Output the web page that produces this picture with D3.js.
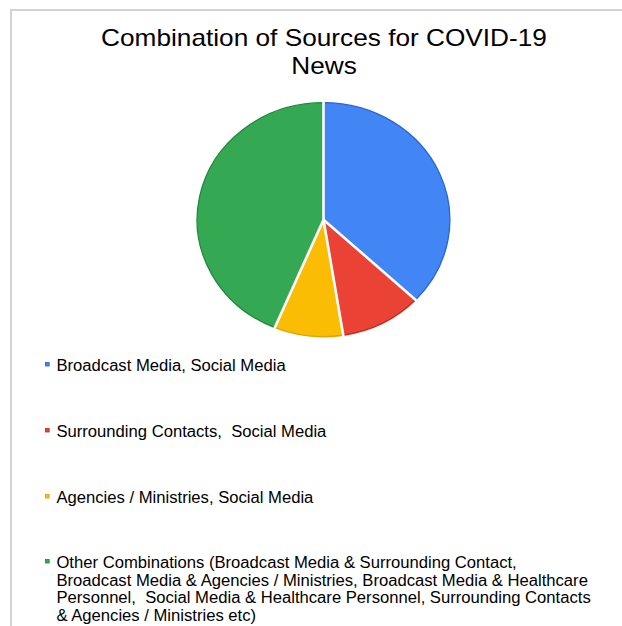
<!DOCTYPE html>
<html>
<head>
    <script src="https://cdn.jsdelivr.net/npm/d3@7"></script>
</head>
<body style="margin:0;background:#fff;">

<style type="text/css">
    svg { display:block; }
    text { font-family: "Liberation Sans", Arial, sans-serif; fill:#000; }
</style>

<script type="text/javascript">
var titleLines = ["Combination of Sources for COVID-19", "News"];

var categories = [
    ["Broadcast Media, Social Media"],
    ["Surrounding Contacts,  Social Media"],
    ["Agencies / Ministries, Social Media"],
    ["Other Combinations (Broadcast Media & Surrounding Contact,",
     "Broadcast Media & Agencies / Ministries, Broadcast Media & Healthcare",
     "Personnel,  Social Media & Healthcare Personnel, Surrounding Contacts",
     "& Agencies / Ministries etc)"]
];
var values = [37.0, 10.5, 8.8, 43.7];
var colors = ["#4285f4", "#ea4335", "#fbbc04", "#34a853"];
var edgeColors = ["#2b63d6", "#c5281c", "#e2a300", "#1f8a3c"];

var W = 622, H = 626;

var svg = d3.select("body").append("svg")
    .attr("width", W)
    .attr("height", H);

// frame (only top and left visible)
svg.append("line").attr("x1", 11).attr("y1", 10).attr("x2", W).attr("y2", 10)
    .attr("stroke", "#d3d3d3").attr("stroke-width", 2);
svg.append("line").attr("x1", 11).attr("y1", 9).attr("x2", 11).attr("y2", H)
    .attr("stroke", "#d3d3d3").attr("stroke-width", 2);

// title
svg.selectAll(".title")
    .data(titleLines)
    .enter().append("text")
    .attr("class", "title")
    .attr("transform", function(d, i){ return "translate(324," + (45.5 + i*28) + ") scale(1.14,1)"; })
    .attr("text-anchor", "middle")
    .style("font-size", "23px")
    .text(function(d){ return d; });

// pie
var r = 117;
var pie = d3.pie().sort(null).value(function(d){ return d; });
var arcs = pie(values);
var arc = d3.arc().innerRadius(0).outerRadius(r);

var g = svg.append("g")
    .attr("transform", "translate(323.5,219.7) scale(1.08,1)");

g.selectAll("path.slice")
    .data(arcs)
    .enter().append("path")
    .attr("class", "slice")
    .attr("d", arc)
    .attr("fill", function(d, i){ return colors[i]; })
    .attr("stroke", function(d, i){ return edgeColors[i]; })
    .attr("stroke-width", 1.3)
    .attr("vector-effect", "non-scaling-stroke");

// white separators between slices
g.selectAll("line.sep")
    .data(arcs)
    .enter().append("line")
    .attr("class", "sep")
    .attr("x1", 0).attr("y1", 0)
    .attr("x2", function(d){ return (r + 2) * Math.sin(d.startAngle); })
    .attr("y2", function(d){ return -(r + 2) * Math.cos(d.startAngle); })
    .attr("stroke", "#fff")
    .attr("stroke-width", 2.6)
    .attr("vector-effect", "non-scaling-stroke");

// legend
var rowY = [371, 437, 503, 568];
var lineH = 17.7;

var leg = svg.append("g").attr("transform", "translate(45,0) scale(1.04,1)");

var items = leg.selectAll("g.item")
    .data(categories)
    .enter().append("g")
    .attr("class", "item")
    .attr("transform", function(d, i){ return "translate(0," + rowY[i] + ")"; });

items.append("rect")
    .attr("x", 0.5).attr("y", -8.5)
    .attr("width", 3.5).attr("height", 3.5)
    .attr("fill", function(d, i){ return colors[i]; })
    .attr("stroke", function(d, i){ return edgeColors[i]; })
    .attr("stroke-width", 0.8);

items.selectAll("text")
    .data(function(d){ return d; })
    .enter().append("text")
    .attr("x", 11)
    .attr("y", function(d, j){ return j * lineH; })
    .style("font-size", "16px")
    .style("white-space", "pre")
    .attr("xml:space", "preserve")
    .text(function(d){ return d; });
</script>

</body>
</html>
